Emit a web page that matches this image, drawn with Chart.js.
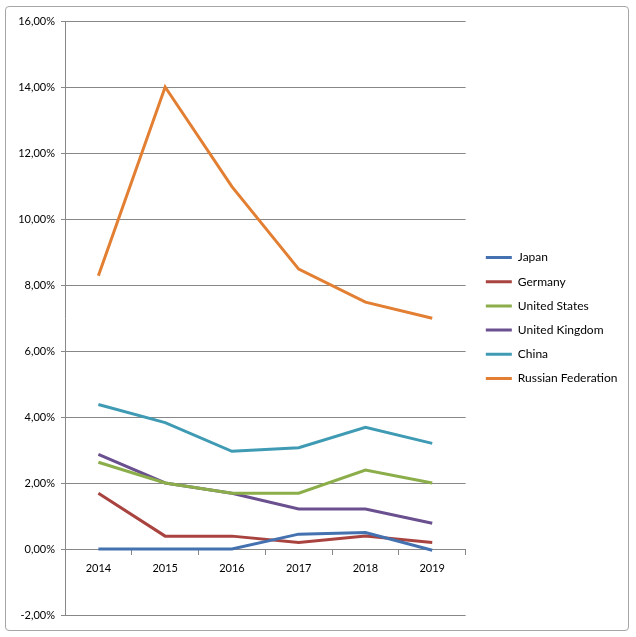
<!DOCTYPE html>
<html>
<head>
<meta charset="utf-8">
<script src="https://cdn.jsdelivr.net/npm/chart.js@4/dist/chart.umd.min.js"></script>
<style>
  html, body { margin: 0; padding: 0; background: #fff; }
  #frame { position: absolute; left: 5px; top: 6px; width: 622px; height: 623px;
           border: 1px solid #a6a6a6; border-radius: 4px; background: #fff; }
  #wrap { position: absolute; left: 0; top: 0; width: 636px; height: 637px; }
</style>
</head>
<body>
<div id="frame"></div>
<div id="wrap"><canvas id="chart"></canvas></div>
<script>
var years = ['2014', '2015', '2016', '2017', '2018', '2019'];
var japan   = [0, 0, 0, 0.45, 0.5, -0.04];
var germany = [1.69, 0.39, 0.39, 0.2, 0.39, 0.2];
var usa     = [2.63, 2.0, 1.69, 1.69, 2.39, 2.0];
var uk      = [2.87, 2.0, 1.69, 1.21, 1.21, 0.78];
var china   = [4.38, 3.83, 2.96, 3.07, 3.69, 3.2];
var russia  = [8.28, 14.0, 10.98, 8.48, 7.48, 6.99];

var names  = ['Japan', 'Germany', 'United States', 'United Kingdom', 'China', 'Russian Federation'];
var series = [japan, germany, usa, uk, china, russia];
var colors = ['#4472b0', '#a9433f', '#8cae4a', '#6b5090', '#3f9bb4', '#e27f32'];

var gridColor = '#878787';
var font = { family: 'Lato', size: 11 };

var c = document.getElementById('chart');
var datasets = [];
for (var i = 0; i < names.length; i++) {
  datasets.push({
    label: names[i],
    data: series[i],
    borderColor: colors[i],
    backgroundColor: colors[i],
    borderWidth: 3,
    pointRadius: 0,
    tension: 0,
    fill: false
  });
}

var chart = new Chart(c, {
  type: 'line',
  data: { labels: years, datasets: datasets },
  options: {
    responsive: true,
    maintainAspectRatio: false,
    animation: false,
    layout: { padding: { left: 10, top: 21, right: 8.5, bottom: 22 } },
    plugins: {
      tooltip: { enabled: false },
      legend: {
        position: 'right',
        maxWidth: 220,
        labels: {
          usePointStyle: true,
          pointStyle: 'line',
          pointStyleWidth: 26,
          boxHeight: 12,
          padding: 12.2,
          color: '#000',
          font: { family: 'Lato', size: 12 }
        }
      }
    },
    scales: {
      x: {
        position: { y: 0 },
        offset: true,
        grid: { drawOnChartArea: false, drawTicks: true, tickLength: 5, color: gridColor, offset: true },
        border: { display: true, color: gridColor },
        ticks: { color: '#000', font: font, padding: 8, maxRotation: 0 }
      },
      y: {
        min: -2,
        max: 16,
        grid: { color: gridColor, tickLength: 4 },
        border: { display: true, color: gridColor },
        ticks: {
          stepSize: 2,
          color: '#000',
          font: font,
          padding: 6,
          callback: function (v) { return v.toFixed(2).replace('.', ',') + '%'; }
        },
        afterFit: function (s) { s.width = 55; }
      },
      // empty right-hand axis, only keeps a gap between plot and legend
      gap: {
        type: 'linear',
        position: 'right',
        display: true,
        grid: { display: false },
        border: { display: false },
        ticks: { display: false },
        afterFit: function (s) { s.width = 8; }
      }
    }
  }
});
chart.update();
</script>
</body>
</html>
